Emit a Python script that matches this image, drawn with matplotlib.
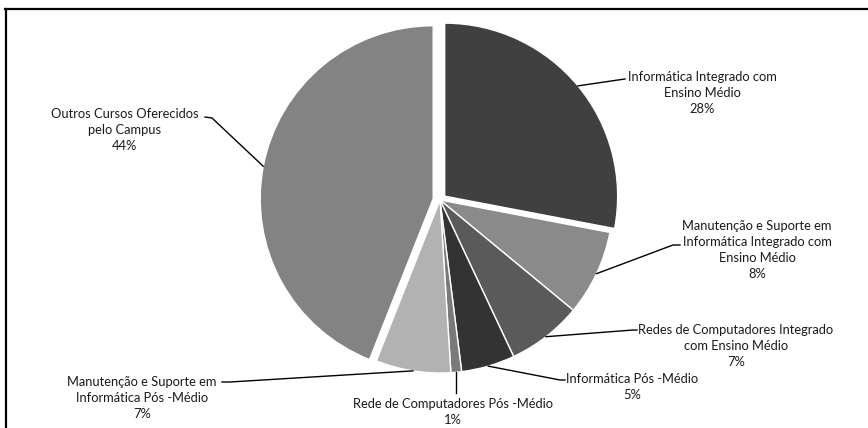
import numpy as np
import matplotlib
matplotlib.use("Agg")
import matplotlib.pyplot as plt
from matplotlib.lines import Line2D

# Course share of enrolled students (percent), clockwise from 12 o'clock
labels = [
    "Informática Integrado com\nEnsino Médio",
    "Manutenção e Suporte em\nInformática Integrado com\nEnsino Médio",
    "Redes de Computadores Integrado\ncom Ensino Médio",
    "Informática Pós -Médio",
    "Rede de Computadores Pós -Médio",
    "Manutenção e Suporte em\nInformática Pós -Médio",
    "Outros Cursos Oferecidos\npelo Campus",
]
shares = [28, 8, 7, 5, 1, 7, 44]
colors = ["#404040", "#8a8a8a", "#5a5a5a", "#333333", "#7a7a7a", "#b2b2b2", "#838383"]
explode = [0.035, 0, 0, 0, 0, 0, 0.04]

W, H = 868, 428
DPI = 100
fig = plt.figure(figsize=(W / DPI, H / DPI), dpi=DPI)
fig.patch.set_facecolor("white")

# pie placement in pixels
cx, cy, R = 440, 200, 173
half = 190
ax = fig.add_axes([(cx - half) / W, (H - cy - half) / H, 2 * half / W, 2 * half / H])
ax.axis("off")

wedges, _ = ax.pie(shares, colors=colors, startangle=90, counterclock=False,
                   explode=explode, radius=1.0,
                   wedgeprops=dict(edgecolor="white", linewidth=1.0))
lim = half / R
ax.set_xlim(-lim, lim)
ax.set_ylim(-lim, lim)
ax.set_aspect("equal")


def px(x, y):
    """pixel position (from top-left) -> pie data coordinates"""
    return (x - cx) / R, (cy - y) / R


# label block centres and leader-line elbows (pixels)
text_pos = [(702, 93), (757, 250), (736, 346), (632, 387), (453, 412), (142, 398), (125, 130)]
elbows = [
    [(618, 80), (625, 79)],
    [(673, 245), (680, 245)],
    [(633, 330), (637, 330)],
    [(560, 380), (565, 380)],
    [None, None],
    [(230, 382), (222, 382)],
    [(212, 118), (205, 117)],
]

font = "Lato"
for w, lab, val, tp, el, ex in zip(wedges, labels, shares, text_pos, elbows, explode):
    mid = np.deg2rad((w.theta1 + w.theta2) / 2)
    ox, oy = ex * np.cos(mid), ex * np.sin(mid)
    sx, sy = ox + np.cos(mid), oy + np.sin(mid)
    if el[0] is None:
        ex2, ey2 = px(454, 393)
        pts = [(sx, sy), (sx, ey2)]
    else:
        pts = [(sx, sy), px(*el[0]), px(*el[1])]
    xs, ys = zip(*pts)
    ax.add_line(Line2D(xs, ys, color="black", lw=1.0, clip_on=False))
    tx, ty = px(*tp)
    ax.text(tx, ty, f"{lab}\n{val}%", ha="center", va="center", fontsize=9.3,
            family=font, color="#1a1a1a", linespacing=1.39, clip_on=False)

# outer frame (only top and left edges fall within the image)
fig.add_artist(Line2D([5 / W, 1.0], [1 - 9 / H, 1 - 9 / H], transform=fig.transFigure,
                      color="black", lw=1.6))
fig.add_artist(Line2D([6 / W, 6 / W], [0.0, 1 - 9 / H], transform=fig.transFigure,
                      color="black", lw=1.6))

fig.savefig("out.png", dpi=DPI)
